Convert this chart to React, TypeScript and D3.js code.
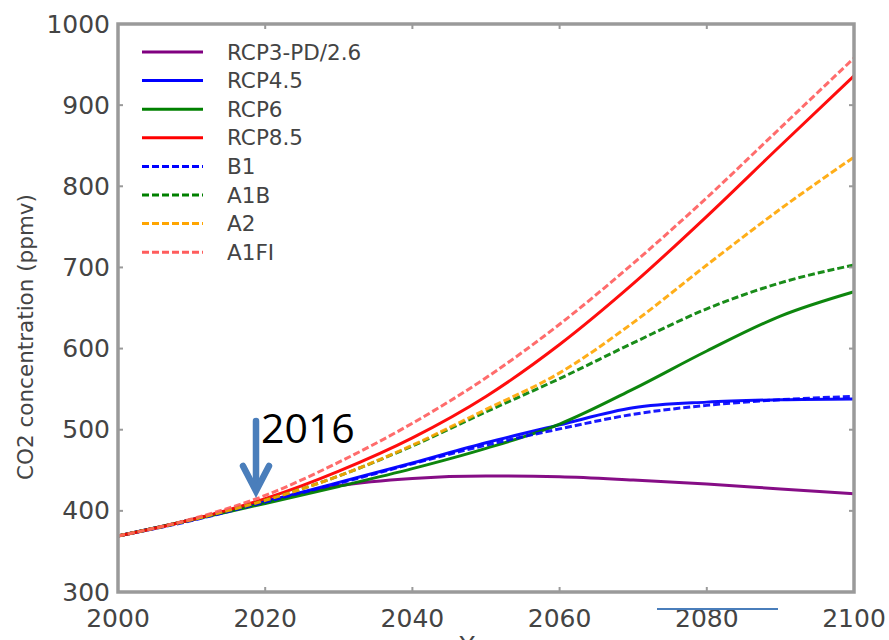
import React from "react";
import * as d3 from "d3";

const years = [2000, 2010, 2020, 2030, 2040, 2050, 2060, 2070, 2080, 2090, 2100];
const rcp26 = [369, 389, 412, 431, 440, 443, 442, 438, 433, 427, 421];
const rcp45 = [369, 389, 411, 435, 459, 484, 506, 527, 534, 537, 538];
const rcp6 = [369, 389, 409, 430, 452, 477, 507, 550, 597, 640, 670];
const rcp85 = [369, 389, 415, 449, 490, 541, 605, 680, 763, 850, 936];
const b1 = [369, 388, 411, 434, 458, 481, 501, 519, 530, 537, 541];
const a1b = [369, 389, 413, 443, 480, 522, 563, 607, 649, 681, 703];
const a2 = [369, 389, 413, 443, 481, 525, 570, 632, 703, 772, 836];
const a1fi = [369, 390, 419, 460, 508, 564, 630, 705, 786, 872, 958];

const seriesNames = ["RCP3-PD/2.6", "RCP4.5", "RCP6", "RCP8.5", "B1", "A1B", "A2", "A1FI"];
const seriesValues = [rcp26, rcp45, rcp6, rcp85, b1, a1b, a2, a1fi];
const seriesColors = ["#800080", "#0000ff", "#008000", "#ff0000", "#0000ff", "#008000", "#ffa500", "#ff5c5c"];
const seriesDashed = [false, false, false, false, true, true, true, true];

const yTicks = [300, 400, 500, 600, 700, 800, 900, 1000];
const xTicks = [2000, 2020, 2040, 2060, 2080, 2100];

const annotationText = "2016";
const xTitle = "Year";
const yTitle = "CO2 concentration (ppmv)";

export default function App() {
  const W = 889;
  const H = 640;
  const left = 118, right = 854, top = 24, bottom = 592;
  const x = d3.scaleLinear().domain([2000, 2100]).range([left, right]);
  const y = d3.scaleLinear().domain([300, 1000]).range([bottom, top]);
  const line = d3
    .line<number>()
    .x((_, i) => x(years[i]))
    .y((d) => y(d))
    .curve(d3.curveMonotoneX);

  const axisFont = "DejaVu Sans, sans-serif";
  const frame = "#9a9a9a";
  const textCol = "#444";
  const legendY0 = 52;
  const legendStep = 28.6;
  const arrowCol = "#4a7ebb";

  return (
    <svg
      width={W}
      height={H}
      viewBox={`0 0 ${W} ${H}`}
      style={{ position: "fixed", left: 0, top: 0, background: "#fff" }}
    >
      <rect x={0} y={0} width={W} height={H} fill="#fff" />
      {/* series */}
      <g>
        {seriesValues.map((vals, i) => (
          <path
            key={seriesNames[i]}
            d={line(vals) || ""}
            fill="none"
            stroke={seriesColors[i]}
            strokeWidth={3}
            strokeDasharray={seriesDashed[i] ? "7,3" : undefined}
            strokeOpacity={seriesDashed[i] ? 0.9 : 0.95}
          />
        ))}
      </g>
      {/* ticks */}
      <g stroke={frame} strokeWidth={2}>
        {xTicks.map((t) => (
          <g key={"xt" + t}>
            <line x1={x(t)} x2={x(t)} y1={bottom} y2={bottom - 5} />
            <line x1={x(t)} x2={x(t)} y1={top} y2={top + 5} />
          </g>
        ))}
        {yTicks.map((t) => (
          <g key={"yt" + t}>
            <line x1={left} x2={left + 5} y1={y(t)} y2={y(t)} />
            <line x1={right} x2={right - 5} y1={y(t)} y2={y(t)} />
          </g>
        ))}
      </g>
      {/* frame */}
      <rect
        x={left}
        y={top}
        width={right - left}
        height={bottom - top}
        fill="none"
        stroke={frame}
        strokeWidth={3.5}
      />
      {/* tick labels */}
      <g fontFamily={axisFont} fontSize={25} fill={textCol}>
        {yTicks.map((t) => (
          <text key={"yl" + t} x={left - 8} y={y(t)} textAnchor="end" dominantBaseline="central">
            {t}
          </text>
        ))}
        {xTicks.map((t) => (
          <text key={"xl" + t} x={x(t)} y={627} textAnchor="middle">
            {t}
          </text>
        ))}
      </g>
      {/* axis titles */}
      <text
        fontFamily={axisFont}
        fontSize={21.5}
        fill={textCol}
        textAnchor="middle"
        transform={`translate(33, 337) rotate(-90)`}
      >
        {yTitle}
      </text>
      <text fontFamily={axisFont} fontSize={25} fill={textCol} textAnchor="middle" x={(left + right) / 2} y={654}>
        {xTitle}
      </text>
      {/* legend */}
      <g fontFamily={axisFont} fontSize={21.5} fill={textCol}>
        {seriesNames.map((n, i) => {
          const ly = legendY0 + i * legendStep;
          return (
            <g key={"lg" + n}>
              <line
                x1={142}
                x2={203}
                y1={ly}
                y2={ly}
                stroke={seriesColors[i]}
                strokeWidth={3}
                strokeDasharray={seriesDashed[i] ? "7,3" : undefined}
              />
              <text x={227} y={ly} dominantBaseline="central">
                {n}
              </text>
            </g>
          );
        })}
      </g>
      {/* annotation arrow */}
      <g stroke={arrowCol} strokeWidth={6.5} fill="none" strokeLinecap="round" strokeLinejoin="miter">
        <line x1={256} y1={421} x2={256} y2={488} />
        <polyline points="243,466 256,491 269,466" />
      </g>
      <text x={261} y={443} fontFamily="Open Sans, Lato, sans-serif" fontSize={41} fill="#000">
        {annotationText}
      </text>
      <line x1={657} x2={778} y1={609} y2={609} stroke={arrowCol} strokeWidth={1.8} />
    </svg>
  );
}
